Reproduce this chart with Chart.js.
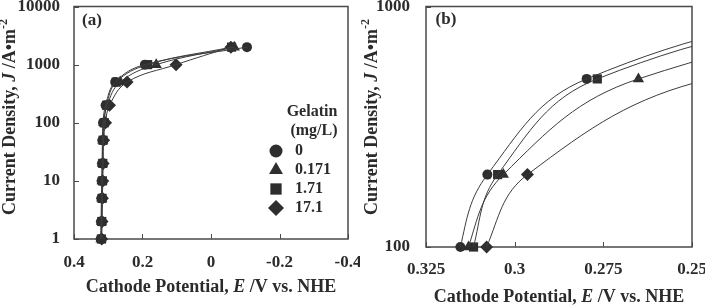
<!DOCTYPE html>
<html>
<head>
<meta charset="utf-8">
<script src="https://cdn.jsdelivr.net/npm/chart.js@4.4.1/dist/chart.umd.min.js"></script>
<style>
  html, body { margin: 0; padding: 0; background: #fff; }
  #wrap { position: relative; width: 705px; height: 308px; }
  .panel { position: absolute; top: 0; height: 308px; }
  #panelA { left: 0; width: 360px; }
  #panelB { left: 360px; width: 345px; }
</style>
</head>
<body>
<div id="wrap">
  <div class="panel" id="panelA"><canvas id="chartA" width="360" height="308"></canvas></div>
  <div class="panel" id="panelB"><canvas id="chartB" width="345" height="308"></canvas></div>
</div>
<script>
// current density J (A/m2) and cathode potential E (V vs NHE) for each gelatin level
const currentDensity = [1, 2, 5, 10, 20, 50, 100, 200, 500, 1000, 2000];
const gelatinLevels = ["0", "0.171", "1.71", "17.1"];
const potentialG0    = [0.322, 0.321, 0.320, 0.319, 0.318, 0.317, 0.3153, 0.3077, 0.2797, 0.193, -0.105];
const potentialG0171 = [0.321, 0.320, 0.319, 0.318, 0.317, 0.316, 0.3130, 0.3032, 0.2651, 0.160, -0.068];
const potentialG171  = [0.320, 0.319, 0.318, 0.317, 0.316, 0.315, 0.3116, 0.3048, 0.2767, 0.185, -0.060];
const potentialG1710 = [0.319, 0.318, 0.317, 0.316, 0.315, 0.3135, 0.3079, 0.2964, 0.245, 0.102, -0.058];

const xTickLabelsA = ["0.4", "0.2", "0", "-0.2", "-0.4"];
const yTickLabelsA = ["1", "10", "100", "1000", "10000"];
const xTickLabelsB = ["0.325", "0.3", "0.275", "0.25"];
const yTickLabelsB = ["100", "1000"];

const seriesPotentials = [potentialG0, potentialG0171, potentialG171, potentialG1710];
const markerStyles = ["circle", "triangle", "rect", "rectRot"];
const markerRadius = [5, 6.5, 6.5, 6.5];
const legendRadius = [6.5, 8, 8, 8];

const FONT = '"Liberation Serif", "Times New Roman", serif';
const textColor = "#2b2b2b";
const lineColor = "#3c3c3c";
const markColor = "#2e2e2e";

function buildDatasets(markerClip) {
  const lines = seriesPotentials.map((pot, i) => ({
    label: gelatinLevels[i],
    data: currentDensity.map((j, k) => ({ x: pot[k], y: j })),
    showLine: true,
    pointRadius: 0,
    borderColor: lineColor,
    borderWidth: 1,
    tension: 0.4,
    fill: false
  }));
  const marks = seriesPotentials.map((pot, i) => ({
    label: gelatinLevels[i],
    data: currentDensity.map((j, k) => ({ x: pot[k], y: j })),
    showLine: false,
    pointStyle: markerStyles[i],
    pointRadius: markerRadius[i],
    backgroundColor: markColor,
    borderColor: markColor,
    borderWidth: 0,
    clip: markerClip
  }));
  return lines.concat(marks);
}

// text with italic / superscript pieces, centred on (cx, cy)
function drawRuns(ctx, runs, cx, cy, size) {
  const fonts = runs.map(r => (r.italic ? "italic " : "") + "bold " + (r.sup ? Math.round(size * 0.65) : size) + "px " + FONT);
  let total = 0;
  const widths = runs.map((r, i) => { ctx.font = fonts[i]; const w = ctx.measureText(r.t).width; total += w; return w; });
  let x = cx - total / 2;
  ctx.textAlign = "left";
  ctx.textBaseline = "middle";
  runs.forEach((r, i) => {
    ctx.font = fonts[i];
    ctx.fillText(r.t, x, cy - (r.sup ? size * 0.35 : 0));
    x += widths[i];
  });
}

const xTitle = [{ t: "Cathode Potential, " }, { t: "E", italic: true }, { t: " /V vs. NHE" }];
const yTitle = [{ t: "Current Density, " }, { t: "J", italic: true }, { t: " /A\u2022m" }, { t: "-2", sup: true }];

const framePlugin = {
  id: "frame",
  beforeDatasetsDraw(chart, args, o) {
    const { ctx, chartArea: a, scales: { x, y } } = chart;
    ctx.save();
    ctx.strokeStyle = "#4a4a4a";
    ctx.lineWidth = 1.5;
    ctx.strokeRect(a.left, a.top, a.right - a.left, a.bottom - a.top);

    ctx.lineWidth = 1;
    ctx.beginPath();
    o.xLabels.forEach(s => {
      const px = Math.round(x.getPixelForValue(parseFloat(s))) + 0.5;
      ctx.moveTo(px, a.bottom); ctx.lineTo(px, a.bottom - 5);
    });
    o.yLabels.forEach(s => {
      const py = Math.round(y.getPixelForValue(parseFloat(s))) + 0.5;
      ctx.moveTo(a.left, py); ctx.lineTo(a.left + 5, py);
    });
    ctx.stroke();

    ctx.fillStyle = textColor;
    ctx.font = "bold 17px " + FONT;
    ctx.textBaseline = "middle";
    ctx.textAlign = "center";
    o.xLabels.forEach(s => ctx.fillText(s, x.getPixelForValue(parseFloat(s)), o.xLabelY));
    ctx.textAlign = "right";
    o.yLabels.forEach(s => ctx.fillText(s, o.yLabelRight, y.getPixelForValue(parseFloat(s))));

    drawRuns(ctx, xTitle.slice(), (a.left + a.right) / 2, o.xTitleY, 18);
    ctx.save();
    ctx.translate(o.yTitleX, o.yTitleY);
    ctx.rotate(-Math.PI / 2);
    drawRuns(ctx, yTitle.slice(), 0, 0, 18);
    ctx.restore();

    ctx.font = "bold 17px " + FONT;
    ctx.textAlign = "center";
    ctx.fillText(o.panel, o.panelX, o.panelY);
    ctx.restore();
  },
  afterDatasetsDraw(chart, args, o) {
    if (!o.legend) return;
    const ctx = chart.ctx;
    ctx.save();
    ctx.fillStyle = textColor;
    ctx.font = "bold 16px " + FONT;
    ctx.textAlign = "center";
    ctx.textBaseline = "middle";
    ctx.fillText("Gelatin", 312, 112);
    ctx.fillText("(mg/L)", 314, 131);
    const rows = [151, 170, 189, 208];
    gelatinLevels.forEach((g, i) => {
      ctx.fillStyle = markColor;
      ctx.strokeStyle = markColor;
      Chart.helpers.drawPoint(ctx, { pointStyle: markerStyles[i], radius: legendRadius[i], rotation: 0, borderWidth: 0 }, 276, rows[i]);
      ctx.fillStyle = textColor;
      ctx.textAlign = "left";
      ctx.fillText(g, 295, rows[i]);
    });
    ctx.restore();
  }
};

function makeChart(id, cfg) {
  return new Chart(document.getElementById(id), {
    type: "scatter",
    data: { datasets: buildDatasets(cfg.markerClip) },
    options: {
      responsive: false,
      animation: false,
      events: [],
      layout: { padding: cfg.padding },
      scales: {
        x: { type: "linear", display: false, reverse: true, min: cfg.xMin, max: cfg.xMax },
        y: { type: "logarithmic", display: false, min: cfg.yMin, max: cfg.yMax }
      },
      plugins: {
        legend: { display: false },
        tooltip: { enabled: false },
        frame: cfg.frame
      }
    },
    plugins: [framePlugin]
  });
}

makeChart("chartA", {
  padding: { left: 74, top: 4, right: 12, bottom: 69 },
  xMin: -0.4, xMax: 0.4, yMin: 1, yMax: 10000,
  markerClip: false,
  frame: {
    xLabels: xTickLabelsA, yLabels: yTickLabelsA,
    xLabelY: 263, yLabelRight: 60, xTitleY: 287,
    yTitleX: 10, yTitleY: 117,
    panel: "(a)", panelX: 92, panelY: 21, legend: true
  }
});

makeChart("chartB", {
  padding: { left: 66, top: 5, right: 13, bottom: 61 },
  xMin: 0.25, xMax: 0.325, yMin: 100, yMax: 1000,
  markerClip: { left: 10, top: 10, right: 0, bottom: 10 },
  frame: {
    xLabels: xTickLabelsB, yLabels: yTickLabelsB,
    xLabelY: 270, yLabelRight: 50, xTitleY: 297,
    yTitleX: 12, yTitleY: 117,
    panel: "(b)", panelX: 86, panelY: 20, legend: false
  }
});
</script>
</body>
</html>
